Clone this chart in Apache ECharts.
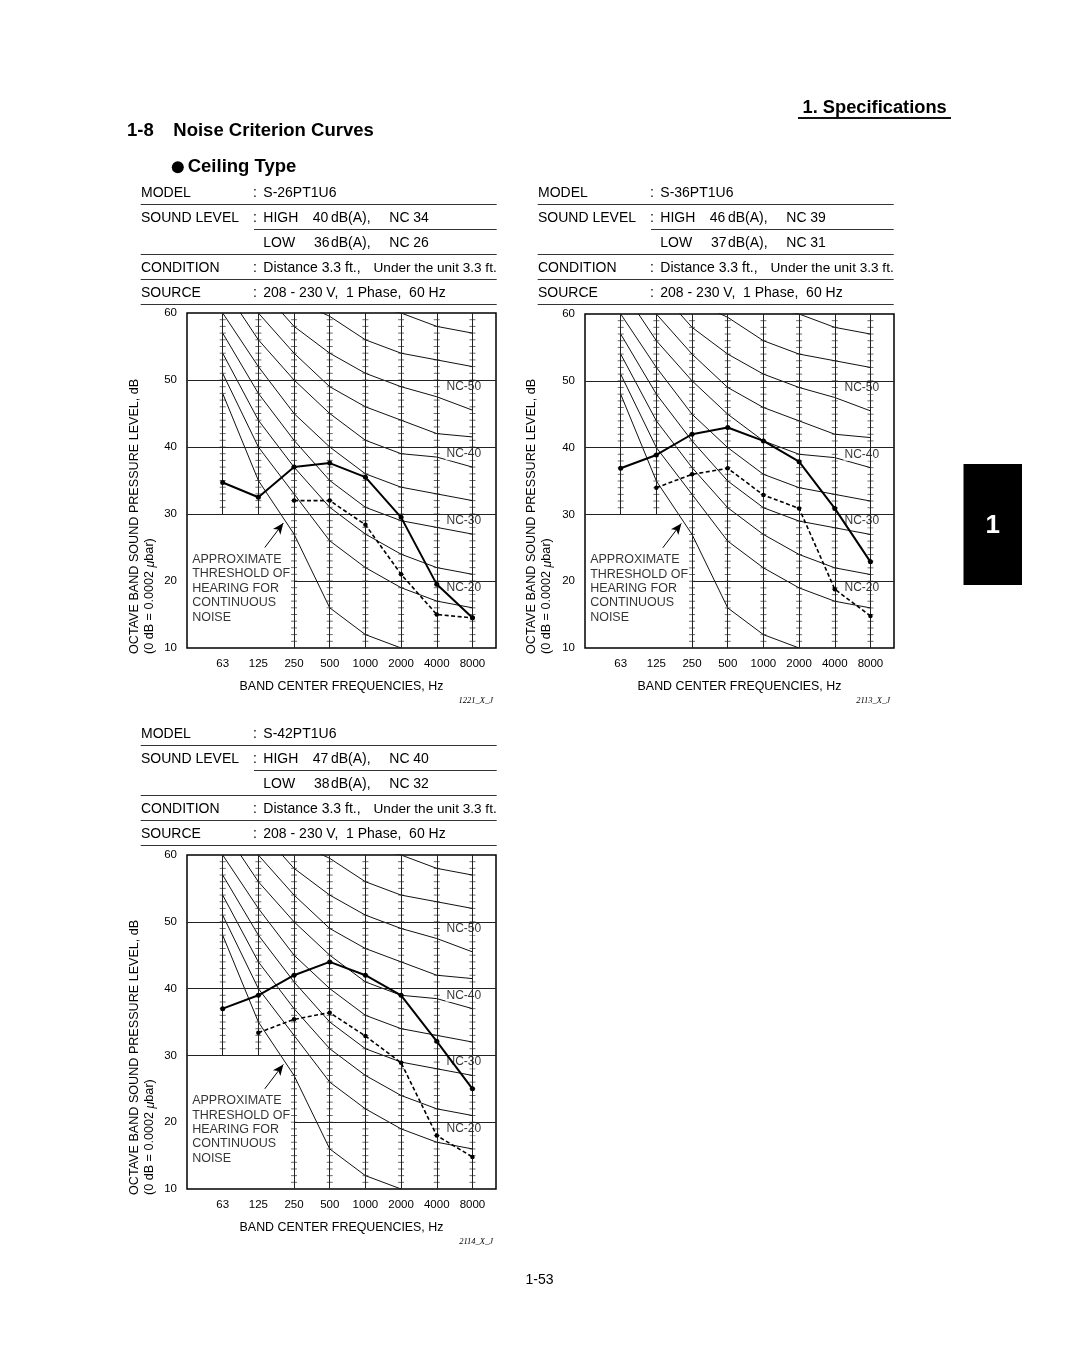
<!DOCTYPE html>
<html>
<head>
<meta charset="utf-8">
<script src="https://cdn.jsdelivr.net/npm/echarts@6/dist/echarts.min.js"></script>
<style>
html,body{margin:0;padding:0;background:#fff;}
#c{width:1080px;height:1363px;}
</style>
</head>
<body>
<div id="c"></div>
<script>
// ---------------- DATA ----------------
const freqLabels = ['63', '125', '250', '500', '1000', '2000', '4000', '8000'];
const yTickValues = [10, 20, 30, 40, 50, 60];

// NC reference curves (dB at 63..8000 Hz), read from the printed template
const ncNames = ['NC-60', 'NC-55', 'NC-50', 'NC-45', 'NC-40', 'NC-35', 'NC-30', 'NC-25', 'NC-20'];
const nc60 = [77, 71, 67, 63, 61, 60, 58, 57];
const nc55 = [74, 67, 62, 59.5, 56, 54, 53, 52];
const nc50 = [71, 64, 58, 54, 51, 49, 47.5, 45.5];
const nc45 = [67, 60, 54, 49, 46, 44, 42, 41.5];
const nc40 = [64, 56, 50, 45, 41, 39, 38.5, 37];
const nc35 = [60, 52, 45, 40, 36, 34, 33, 32];
const nc30 = [57, 48, 41, 35, 31, 29, 28, 27];
const nc25 = [54, 44, 37, 31, 27, 24, 22, 21];
const nc20 = [51, 40, 33, 26, 22, 19, 17, 16];
const ncCurves = [nc60, nc55, nc50, nc45, nc40, nc35, nc30, nc25, nc20];
// approximate threshold of hearing (63..2000 Hz)
const threshold = [48, 35, 27, 16, 12, 10];

const ncLabelNames = ['NC-50', 'NC-40', 'NC-30', 'NC-20'];
const ncLabelLevels = [50, 40, 30, 20];

// Model info
const models = ['S-26PT1U6', 'S-36PT1U6', 'S-42PT1U6'];
const highDBA = [40, 46, 47];
const highNC = [34, 39, 40];
const lowDBA = [36, 37, 38];
const lowNC = [26, 31, 32];
const codes = ['1221_X_J', '2113_X_J', '2114_X_J'];

// Measured octave band levels (dB), 63..8000 Hz
const high1 = [34.7, 32.5, 37.0, 37.6, 35.5, 29.5, 19.5, 14.5];
const low1 = [null, null, 32.0, 32.0, 28.4, 21.0, 15.0, 14.5];
const high2 = [36.9, 38.9, 42.0, 43.0, 41.0, 37.9, 30.9, 22.9];
const low2 = [null, 34.0, 36.0, 36.9, 32.9, 30.9, 18.8, 14.8];
const high3 = [37.0, 39.0, 42.0, 44.0, 42.0, 39.0, 32.1, 25.0];
const low3 = [null, 33.4, 35.4, 36.4, 32.9, 28.9, 18.0, 14.8];
const highSets = [high1, high2, high3];
const lowSets = [low1, low2, low3];

// ---------------- LAYOUT ----------------
const FONT = '"Liberation Sans", Arial, Helvetica, sans-serif';
const X_MAX = 8.66;
const grids = [
  {left: 187, top: 313, width: 309, height: 335},
  {left: 585, top: 314, width: 309, height: 334},
  {left: 187, top: 855, width: 309, height: 334}
];
const panelOffsets = [[0, 0], [397, 0], [0, 541]];

function pts(arr) {
  const out = [];
  arr.forEach((v, i) => { if (v !== null && v !== undefined) out.push([i + 1, v]); });
  return out;
}

const series = [];
grids.forEach((g, k) => {
  const ax = {xAxisIndex: k, yAxisIndex: k};
  // tick marks on the frequency columns (1 dB)
  const ticks = [];
  freqLabels.forEach((f, i) => {
    const c = i + 1;
    const lo = c <= 2 ? 30 : 10;
    for (let d = lo + 1; d < 60; d++) ticks.push([c, d]);
  });
  const gridSegs = [];
  freqLabels.forEach((f, i) => {
    const c = i + 1;
    const lo = c <= 2 ? 30 : 10;
    gridSegs.push([{coord: [c, 60]}, {coord: [c, lo]}]);
  });
  ncLabelLevels.forEach(lv => {
    const start = lv === 20 ? 3 : 0;
    gridSegs.push([{coord: [start, lv]}, {coord: [X_MAX, lv]}]);
  });
  series.push({
    type: 'scatter', ...ax, silent: true, z: 1,
    symbol: 'rect', symbolSize: [6, 1],
    itemStyle: {color: '#444'},
    data: ticks,
    markLine: {
      silent: true, symbol: ['none', 'none'], animation: false,
      label: {show: false},
      lineStyle: {color: '#222', width: 1, type: 'solid'},
      data: gridSegs
    }
  });
  // NC curves
  ncCurves.forEach((cv, j) => {
    series.push({
      type: 'line', ...ax, name: ncNames[j], silent: true, z: 2,
      symbol: 'none', showSymbol: false, clip: true,
      lineStyle: {color: '#111', width: 1},
      data: pts(cv)
    });
  });
  // threshold of hearing + arrow
  series.push({
    type: 'line', ...ax, silent: true, z: 2,
    symbol: 'none', showSymbol: false, clip: true,
    lineStyle: {color: '#111', width: 1},
    data: pts(threshold),
    markLine: {
      silent: true, animation: false,
      symbol: ['none', 'arrow'], symbolSize: [7, 11],
      label: {show: false},
      lineStyle: {color: '#000', width: 1, type: 'solid'},
      data: [[{coord: [2.18, 25.0]}, {coord: [2.70, 28.65]}]]
    }
  });
  // NC labels
  series.push({
    type: 'scatter', ...ax, silent: true, z: 4,
    symbolSize: 1, itemStyle: {color: 'rgba(0,0,0,0)'},
    data: ncLabelNames.map((n, j) => ({name: n, value: [7.23, ncLabelLevels[j] - 1]})),
    label: {
      show: true, position: 'right', distance: 0,
      formatter: p => p.name,
      fontFamily: FONT, fontSize: 12, color: '#000',
      backgroundColor: '#fff', padding: [1, 1, 0, 1]
    }
  });
  // approximate threshold text
  series.push({
    type: 'scatter', ...ax, silent: true, z: 4,
    symbolSize: 1, itemStyle: {color: 'rgba(0,0,0,0)'},
    data: [{name: 'APPROXIMATE\nTHRESHOLD OF\nHEARING FOR\nCONTINUOUS\nNOISE', value: [0.13, 18.9]}],
    label: {
      show: true, position: 'right', distance: 0, align: 'left',
      formatter: p => p.name,
      fontFamily: FONT, fontSize: 12.5, lineHeight: 14.4, color: '#000'
    }
  });
  // measured: HIGH (solid) and LOW (dashed)
  series.push({
    type: 'line', ...ax, name: 'HIGH', silent: true, z: 6,
    symbol: 'circle', symbolSize: 5, showSymbol: true, showAllSymbol: true,
    itemStyle: {color: '#000'},
    lineStyle: {color: '#000', width: 2},
    data: pts(highSets[k])
  });
  series.push({
    type: 'line', ...ax, name: 'LOW', silent: true, z: 6,
    symbol: 'circle', symbolSize: 4.5, showSymbol: true, showAllSymbol: true,
    itemStyle: {color: '#000'},
    lineStyle: {color: '#000', width: 1.6, type: [4, 2.5]},
    data: pts(lowSets[k])
  });
});

// ---------------- GRAPHIC (page text) ----------------
const graphic = [];
function txt(x, y, text, opt) {
  opt = opt || {};
  graphic.push({
    type: 'text', x: x, y: y, rotation: opt.rotation || 0, silent: true, z: 10,
    style: {
      text: text,
      font: opt.font || ('14px ' + FONT),
      fill: opt.fill || '#000',
      textAlign: opt.align || 'left', align: opt.align || 'left',
      textVerticalAlign: 'middle', verticalAlign: 'middle',
      rich: opt.rich
    }
  });
}
function hline(x1, x2, y, w, color) {
  graphic.push({type: 'line', silent: true, z: 10,
    shape: {x1: x1, y1: y, x2: x2, y2: y},
    style: {stroke: color || '#333', lineWidth: w || 1}});
}

// Headers
txt(802.5, 107.5, '1. Specifications', {font: 'bold 18.3px ' + FONT});
graphic.push({type: 'rect', silent: true, z: 10, shape: {x: 798, y: 117, width: 153, height: 2}, style: {fill: '#111'}});
txt(127, 131, '1-8', {font: 'bold 18.5px ' + FONT});
txt(173.3, 131, 'Noise Criterion Curves', {font: 'bold 18.5px ' + FONT});
graphic.push({type: 'circle', silent: true, z: 10, shape: {cx: 177.8, cy: 167.2, r: 6}, style: {fill: '#000'}});
txt(187.7, 167, 'Ceiling Type', {font: 'bold 18.5px ' + FONT});

// Tab
graphic.push({type: 'rect', silent: true, z: 10, shape: {x: 963.5, y: 464, width: 58.5, height: 121}, style: {fill: '#000'}});
txt(992.7, 526, '1', {font: 'bold 26px ' + FONT, fill: '#fff', align: 'center'});

// Page number
txt(539.5, 1280, '1-53', {font: '14px ' + FONT, align: 'center'});

// Panels
panelOffsets.forEach((o, k) => {
  const dx = o[0], dy = o[1];
  const L = 140.7 + dx, R = 496.7 + dx;
  txt(141 + dx, 193.3 + dy, 'MODEL');
  txt(253 + dx, 193.3 + dy, ':');
  txt(263.3 + dx, 193.3 + dy, models[k]);
  hline(L, R, 204.5 + dy);
  txt(141 + dx, 218.3 + dy, 'SOUND LEVEL');
  txt(253 + dx, 218.3 + dy, ':');
  txt(263.3 + dx, 218.3 + dy, 'HIGH');
  txt(312.7 + dx, 218.3 + dy, String(highDBA[k]));
  txt(331 + dx, 218.3 + dy, 'dB(A),');
  txt(389.3 + dx, 218.3 + dy, 'NC');
  txt(413.3 + dx, 218.3 + dy, String(highNC[k]));
  hline(254 + dx, R, 229.5 + dy);
  txt(263.3 + dx, 243.3 + dy, 'LOW');
  txt(314 + dx, 243.3 + dy, String(lowDBA[k]));
  txt(331 + dx, 243.3 + dy, 'dB(A),');
  txt(389.3 + dx, 243.3 + dy, 'NC');
  txt(413.3 + dx, 243.3 + dy, String(lowNC[k]));
  hline(L, R, 254.5 + dy);
  txt(141 + dx, 268.5 + dy, 'CONDITION');
  txt(253 + dx, 268.5 + dy, ':');
  txt(263.3 + dx, 268.5 + dy, 'Distance 3.3 ft.,');
  txt(496.7 + dx, 268.5 + dy, 'Under the unit 3.3 ft.', {font: '13.6px ' + FONT, align: 'right'});
  hline(L, R, 279.5 + dy);
  txt(141 + dx, 293.5 + dy, 'SOURCE');
  txt(253 + dx, 293.5 + dy, ':');
  txt(263.3 + dx, 293.5 + dy, '208 - 230 V,  1 Phase,  60 Hz');
  hline(L, R, 304.5 + dy);

  // rotated y titles
  txt(135 + dx, 654 + dy, 'OCTAVE BAND SOUND PRESSURE LEVEL, dB', {font: '12.6px ' + FONT, rotation: Math.PI / 2});
  txt(150 + dx, 654 + dy, '(0 dB = 0.0002 {i|μ}bar)', {font: '12.6px ' + FONT, rotation: Math.PI / 2,
    rich: {i: {fontStyle: 'italic', fontSize: 12.6, fontFamily: FONT}}});
  // code
  txt(493 + dx, 701 + dy, codes[k], {font: 'italic 8.5px "Liberation Serif", "Times New Roman", serif', align: 'right'});
});

// ---------------- OPTION ----------------
const option = {
  animation: false,
  backgroundColor: '#fff',
  grid: grids.map(g => Object.assign({}, g, {show: true, borderColor: '#000', borderWidth: 1.5, backgroundColor: 'rgba(0,0,0,0)', containLabel: false})),
  xAxis: grids.map((g, k) => ({
    gridIndex: k, type: 'value', min: 0, max: X_MAX, interval: 1,
    axisLine: {show: false}, axisTick: {show: false}, splitLine: {show: false},
    axisLabel: {
      show: true, margin: 10, color: '#000', fontSize: 11.5, fontFamily: FONT,
      showMinLabel: true, showMaxLabel: true,
      formatter: v => {
        const r = Math.round(v);
        return (Math.abs(v - r) < 1e-6 && r >= 1 && r <= freqLabels.length) ? freqLabels[r - 1] : '';
      }
    },
    name: 'BAND CENTER FREQUENCIES, Hz', nameLocation: 'middle', nameGap: 33,
    nameTextStyle: {color: '#000', fontSize: 12.4, fontFamily: FONT}
  })),
  yAxis: grids.map((g, k) => ({
    gridIndex: k, type: 'value', min: yTickValues[0], max: yTickValues[yTickValues.length - 1], interval: 10,
    axisLine: {show: false}, axisTick: {show: false}, splitLine: {show: false},
    axisLabel: {show: true, margin: 10, color: '#000', fontSize: 11.5, fontFamily: FONT, padding: [4, 0, 0, 0]}
  })),
  series: series,
  graphic: graphic
};

const chart = echarts.init(document.getElementById('c'), null, {renderer: 'canvas'});
chart.setOption(option);
</script>
</body>
</html>
